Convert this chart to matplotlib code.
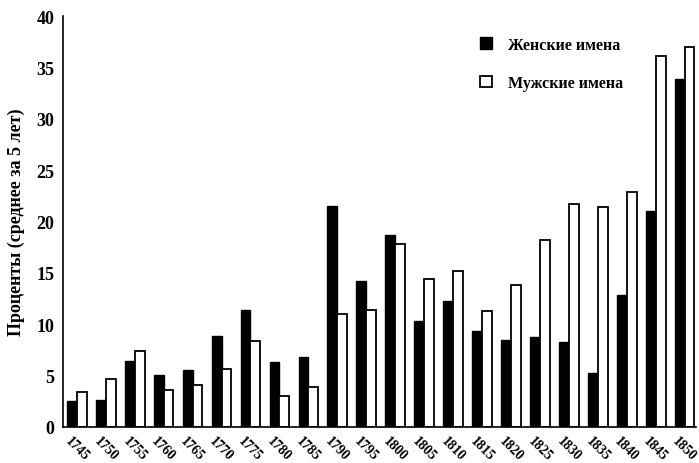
import numpy as np
import matplotlib
matplotlib.use('Agg')
import matplotlib.pyplot as plt

plt.rcParams['font.family'] = ['Liberation Serif', 'DejaVu Serif']
plt.rcParams['font.weight'] = 'bold'

years = ['1745', '1750', '1755', '1760', '1765', '1770', '1775', '1780', '1785', '1790',
         '1795', '1800', '1805', '1810', '1815', '1820', '1825', '1830', '1835', '1840',
         '1845', '1850']
female = [2.5, 2.6, 6.4, 5.0, 5.5, 8.8, 11.4, 6.3, 6.8, 21.5,
          14.2, 18.7, 10.3, 12.3, 9.3, 8.5, 8.7, 8.3, 5.2, 12.8,
          21.0, 33.9]
male = [3.4, 4.7, 7.4, 3.6, 4.1, 5.6, 8.4, 3.0, 3.9, 11.0,
        11.4, 17.8, 14.4, 15.2, 11.3, 13.8, 18.2, 21.7, 21.4, 22.9,
        36.1, 37.0]

fig = plt.figure(figsize=(6.99, 4.64), dpi=100)
ax = fig.add_axes([0.090, 0.078, 0.906, 0.885])

x = np.arange(len(years))
w = 0.34
ax.bar(x - w / 2, female, w, color='black', edgecolor='black', linewidth=1.0,
       label='Женские имена')
ax.bar(x + w / 2, male, w, color='white', edgecolor='black', linewidth=1.3,
       label='Мужские имена')

ax.set_xlim(-0.48, 21.4)
ax.set_ylim(0, 40)
ax.set_yticks(range(0, 41, 5))
ax.set_xticks(x)
ax.set_xticklabels(years, rotation=-45, ha='center', va='top', fontsize=10,
                   fontweight='bold')
ax.tick_params(axis='y', length=0, labelsize=13, pad=6)
ax.tick_params(axis='x', length=0, pad=5)
for lab in ax.get_yticklabels():
    lab.set_fontweight('bold')

ax.spines['top'].set_visible(False)
ax.spines['right'].set_visible(False)
ax.spines['left'].set_linewidth(1.2)
ax.spines['bottom'].set_linewidth(1.2)

ax.set_ylabel('Проценты (среднее за 5 лет)', fontsize=13, fontweight='bold', labelpad=8)

ax.legend(loc='upper left', bbox_to_anchor=(0.636, 0.985), frameon=False,
          handlelength=0.75, handleheight=0.75, handletextpad=1.0,
          labelspacing=1.4, prop={'size': 11.5, 'weight': 'bold'})

fig.savefig('out.png', dpi=100)
